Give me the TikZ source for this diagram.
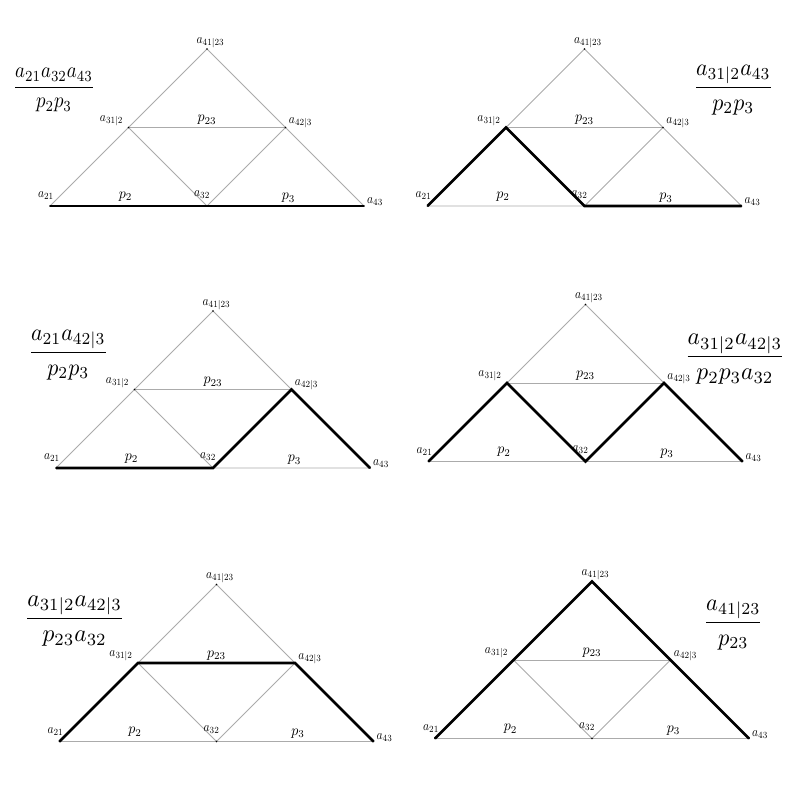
\documentclass[tikz,border=0pt]{standalone}
\usepackage{amsmath}
\tikzset{
  thinline/.style={draw=black!33, line width=0.8pt},
  heavy/.style={draw=black, line width=2.6pt},
  vlab/.style={inner sep=0pt, xscale=1.15, yscale=1.35},
  elab/.style={inner sep=0pt, xscale=1.4, yscale=1.5},
  fraclab/.style 2 args={inner sep=0pt, xscale=#1, yscale=#2},
  vdot/.style={fill=black}
}
\newcommand\tripanel[3]{%
  \path (#2,#3) coordinate (#1-a21)
    +(78.5,-78.5) coordinate (#1-a31)
    +(157,-157) coordinate (#1-top)
    +(235.5,-78.5) coordinate (#1-a42)
    +(157,0) coordinate (#1-a32)
    +(314,0) coordinate (#1-a43);
  \draw[thinline] (#1-a21) -- (#1-top) -- (#1-a43) -- cycle;
  \draw[thinline] (#1-a31) -- (#1-a42);
  \draw[thinline] (#1-a31) -- (#1-a32) -- (#1-a42);
}
\newcommand\trilabels[1]{%
  \foreach \v in {a21,a31,top,a42,a32,a43}{\fill[vdot] (#1-\v) circle (0.9pt);}
  \node[vlab] (#1-la21) at ([shift={(-4,-10)}]#1-a21) {$a_{21}$};
  \node[vlab] (#1-la43) at ([shift={(11,-4)}]#1-a43) {$a_{43}$};
  \node[vlab] (#1-ltop) at ([shift={(3.5,-6.5)}]#1-top) {$a_{41|23}$};
  \node[vlab] (#1-la31) at ([shift={(-17,-7)}]#1-a31) {$a_{31|2}$};
  \node[vlab] (#1-la42) at ([shift={(15,-4.5)}]#1-a42) {$a_{42|3}$};
  \node[vlab] (#1-la32) at ([shift={(-5,-11.5)}]#1-a32) {$a_{32}$};
  \node[elab] (#1-lp23) at ([shift={(157,-86)}]#1-a21) {$p_{23}$};
  \node[elab] (#1-lp2) at ([shift={(75.5,-9.5)}]#1-a21) {$p_{2}$};
  \node[elab] (#1-lp3) at ([shift={(238.5,-8)}]#1-a21) {$p_{3}$};
}
\begin{document}
\begin{tikzpicture}[x=1pt,y=-1pt]
\useasboundingbox[fill=white] (0,0) rectangle (797,802);
% panel 1
\tripanel{P1}{50}{206}
\draw[heavy] (P1-a21) -- (P1-a32) -- (P1-a43);
\trilabels{P1}
\node[fraclab={1.88}{2.2}] (P1-f) at (54,90.3) {$\dfrac{a_{21}a_{32}a_{43}}{p_2p_3}$};
% panel 2
\tripanel{P2}{427.5}{206}
\draw[heavy] (P2-a21) -- (P2-a31) -- (P2-a32) -- (P2-a43);
\trilabels{P2}
\node[fraclab={2.2}{2.4}] (P2-f) at (733.3,90) {$\dfrac{a_{31|2}a_{43}}{p_2p_3}$};
% panel 3
\tripanel{P3}{56}{468}
\draw[heavy] (P3-a21) -- (P3-a32) -- (P3-a42) -- (P3-a43);
\trilabels{P3}
\node[fraclab={2.2}{2.4}] (P3-f) at (68.3,355) {$\dfrac{a_{21}a_{42|3}}{p_2p_3}$};
% panel 4
\tripanel{P4}{428.5}{461.5}
\draw[heavy] (P4-a21) -- (P4-a31) -- (P4-a32) -- (P4-a42) -- (P4-a43);
\trilabels{P4}
\node[fraclab={2.35}{2.45}] (P4-f) at (735,359.3) {$\dfrac{a_{31|2}a_{42|3}}{p_2p_3a_{32}}$};
% panel 5
\tripanel{P5}{59.5}{741.5}
\draw[heavy] (P5-a21) -- (P5-a31) -- (P5-a42) -- (P5-a43);
\trilabels{P5}
\node[fraclab={2.35}{2.45}] (P5-f) at (74.7,621) {$\dfrac{a_{31|2}a_{42|3}}{p_{23}a_{32}}$};
% panel 6
\tripanel{P6}{435}{738.5}
\draw[heavy] (P6-a21) -- (P6-top) -- (P6-a43);
\trilabels{P6}
\node[fraclab={2.25}{2.4}] (P6-f) at (733.3,625) {$\dfrac{a_{41|23}}{p_{23}}$};
\end{tikzpicture}
\end{document}
